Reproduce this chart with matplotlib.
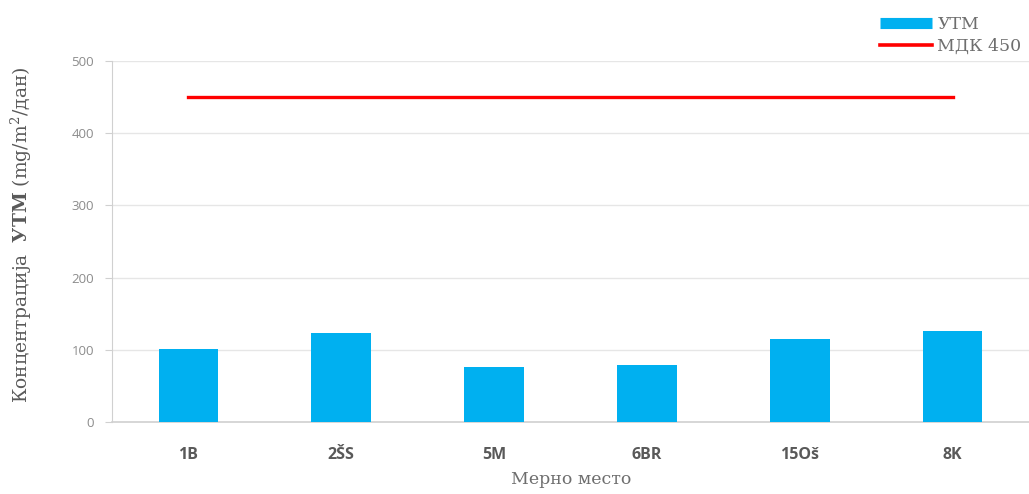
import matplotlib.pyplot as plt
from matplotlib.lines import Line2D

# measurement sites and deposited matter (mg/m2/day)
sites = ["1B", "2ŠS", "5M", "6BR", "15Oš", "8K"]
utm = [101, 123, 76, 79, 115, 126]
mdk = 450
y_ticks = [0, 100, 200, 300, 400, 500]

plt.rcParams["mathtext.fontset"] = "custom"
plt.rcParams["mathtext.rm"] = "DejaVu Serif"
plt.rcParams["mathtext.bf"] = "DejaVu Serif:bold"

fig = plt.figure(figsize=(10.29, 4.94), dpi=100)
ax = fig.add_axes([0.1088, 0.1457, 0.8912, 0.7308])

x = range(len(sites))
ax.bar(x, utm, width=0.39, color="#00B0F0", zorder=3)
ax.plot([0, len(sites) - 1], [mdk, mdk], color="#FF0000", lw=2.4, zorder=4)

ax.set_xlim(-0.5, len(sites) - 0.5)
ax.set_ylim(0, 500)
ax.set_yticks(y_ticks)
ax.grid(axis="y", color="#E6E6E6", lw=1, zorder=0)

for s in ["top", "right"]:
    ax.spines[s].set_visible(False)
ax.spines["left"].set_color("#D0D0D0")
ax.spines["bottom"].set_color("#D0D0D0")
ax.spines["bottom"].set_linewidth(1.2)

ax.tick_params(axis="y", colors="#D0D0D0", length=5, labelsize=9.5, labelcolor="#8C8C8C", pad=8)
ax.tick_params(axis="x", length=0, pad=18)
ax.set_xticks(list(x))
ax.set_xticklabels(sites, fontsize=11.5, fontweight="bold", color="#595959", family="Open Sans")
for lab in ax.get_yticklabels():
    lab.set_family("Open Sans")

fig.text(0.555, 0.012, "Мерно место", ha="center", va="bottom", fontsize=12.5,
         color="#6E6E6E", family="DejaVu Serif")
fig.text(0.020, 0.525, "Концентрација  $\\mathbf{УТМ}$ (mg/m$^2$/дан)", rotation=90,
         ha="center", va="center", fontsize=13.5, color="#595959", family="DejaVu Serif")

handles = [Line2D([], [], color="#00B0F0", lw=8, solid_capstyle="butt"),
           Line2D([], [], color="#FF0000", lw=2.6)]
fig.legend(handles, ["УТМ", "МДК 450"], loc="upper right", bbox_to_anchor=(1.008, 1.0),
           frameon=False, handlelength=3.0, handletextpad=0.3, labelspacing=0.3,
           prop={"family": "DejaVu Serif", "size": 12.5}, labelcolor="#6E6E6E")

fig.savefig("out.png", dpi=100)
